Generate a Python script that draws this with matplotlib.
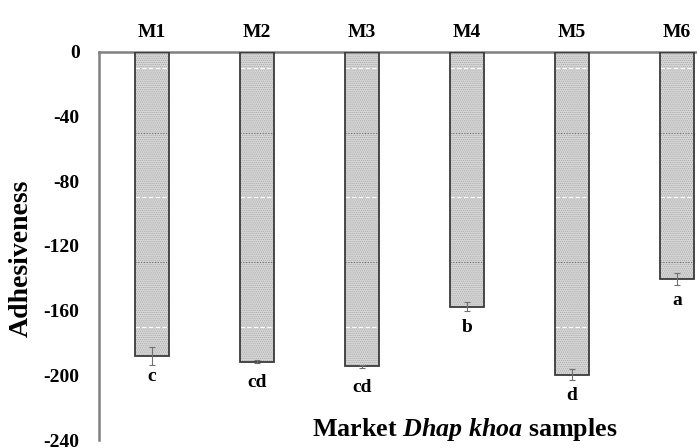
import matplotlib
matplotlib.use("Agg")
import matplotlib.pyplot as plt

# Adhesiveness of market Dhap khoa samples
samples = ["M1", "M2", "M3", "M4", "M5", "M6"]
adhesiveness = [-188, -191.5, -194.5, -157.5, -199.5, -140.5]
errors = [5.5, 1.0, 1.0, 3.0, 3.5, 3.5]
letters = ["c", "cd", "cd", "b", "d", "a"]
yticks = [0, -40, -80, -120, -160, -200, -240]

plt.rcParams['font.family'] = ['Liberation Serif', 'DejaVu Serif']
plt.rcParams['font.weight'] = 'bold'
plt.rcParams['hatch.linewidth'] = 0.5
plt.rcParams['mathtext.fontset'] = 'custom'
plt.rcParams['mathtext.rm'] = 'Liberation Serif:bold'
plt.rcParams['mathtext.it'] = 'Liberation Serif:italic:bold'
plt.rcParams['mathtext.bf'] = 'Liberation Serif:bold'

fig = plt.figure(figsize=(6.97, 4.48), dpi=100)
ax = fig.add_axes([99 / 697, 1 - 440 / 448, 1 - 99 / 697, (440 - 52) / 448])

x = list(range(len(samples)))
width = 34 / 105

# stippled fill, then dark outline
ax.bar(x, adhesiveness, width=width, color='#d6d6d6', edgecolor='#a8a8a8',
       hatch='........', linewidth=0, zorder=2)
ax.bar(x, adhesiveness, width=width, color='none', edgecolor='#3a3a3a',
       linewidth=1.3, zorder=3)

# faint pattern lines inside bars
for v, c, ls in [(-10, 'white', (0, (4, 2))), (-50, '#707070', (0, (1, 1.5))),
                 (-90, 'white', (0, (4, 2))), (-130, '#707070', (0, (1, 1.5))),
                 (-170, 'white', (0, (4, 2)))]:
    for xi, val in zip(x, adhesiveness):
        if val < v:
            ax.plot([xi - width / 2, xi + width / 2], [v, v], color=c, lw=0.8,
                    ls=ls, zorder=2.5)

ax.errorbar(x, adhesiveness, yerr=errors, fmt='none', ecolor='#707070',
            elinewidth=0.8, capsize=2.5, capthick=0.8, zorder=4)

for xi, val, let in zip(x, adhesiveness, letters):
    ax.annotate(let, (xi, val), xytext=(0, -9), textcoords='offset points',
                ha='center', va='top', fontsize=14, fontweight='bold')

ax.set_xlim(-53 / 105, (697 - 152) / 105)
ax.set_ylim(-240, 0)
ax.set_yticks(yticks)
ax.set_yticklabels([str(t) for t in yticks], fontsize=14, fontweight='bold')
ax.set_xticks(x)
ax.set_xticklabels(samples, fontsize=14, fontweight='bold')
ax.xaxis.tick_top()
ax.tick_params(axis='both', length=0)
ax.tick_params(axis='x', pad=8)
ax.tick_params(axis='y', pad=14)

for side in ['right', 'bottom']:
    ax.spines[side].set_visible(False)
for side in ['left', 'top']:
    ax.spines[side].set_color('#808080')
    ax.spines[side].set_linewidth(1.8)

fig.text(21 / 697, 1 - 258 / 448, 'Adhesiveness', rotation=90,
         ha='center', va='center', fontsize=20, fontweight='bold')
fig.text(465 / 697, 1 - 429 / 448, 'Market $\\it{Dhap\\ khoa}$ samples',
         ha='center', va='center', fontsize=18.7, fontweight='bold')

fig.savefig('out.png', dpi=100)
